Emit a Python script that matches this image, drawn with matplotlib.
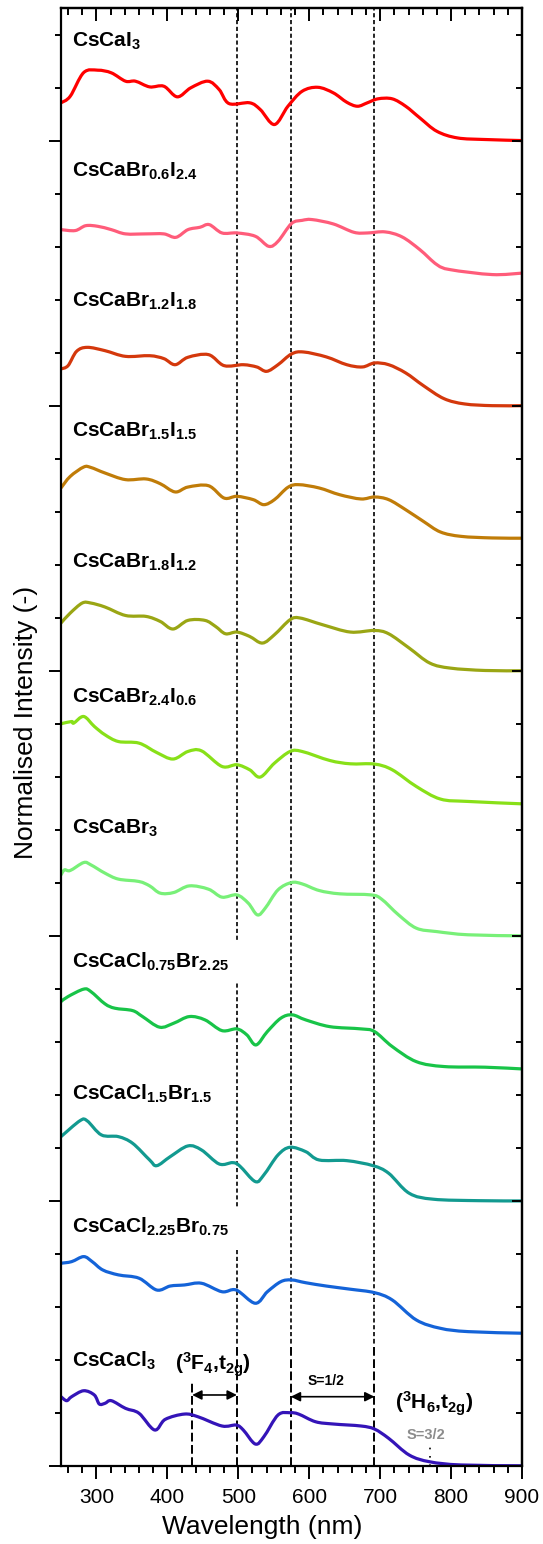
import matplotlib
matplotlib.use('Agg')
import numpy as np
import matplotlib.pyplot as plt
from matplotlib.ticker import MultipleLocator
from matplotlib.path import Path
from matplotlib.patches import PathPatch

plt.rcParams['font.family'] = ['Liberation Sans', 'DejaVu Sans']
plt.rcParams['mathtext.fontset'] = 'custom'
plt.rcParams['mathtext.rm'] = 'Liberation Sans'
plt.rcParams['mathtext.bf'] = 'Liberation Sans:bold'
plt.rcParams['mathtext.it'] = 'Liberation Sans:italic'

# ---------------- data (top to bottom) ----------------
names = [r'$\mathbf{CsCaI_3}$',
         r'$\mathbf{CsCaBr_{0.6}I_{2.4}}$',
         r'$\mathbf{CsCaBr_{1.2}I_{1.8}}$',
         r'$\mathbf{CsCaBr_{1.5}I_{1.5}}$',
         r'$\mathbf{CsCaBr_{1.8}I_{1.2}}$',
         r'$\mathbf{CsCaBr_{2.4}I_{0.6}}$',
         r'$\mathbf{CsCaBr_3}$',
         r'$\mathbf{CsCaCl_{0.75}Br_{2.25}}$',
         r'$\mathbf{CsCaCl_{1.5}Br_{1.5}}$',
         r'$\mathbf{CsCaCl_{2.25}Br_{0.75}}$',
         r'$\mathbf{CsCaCl_3}$']

colors = ['#ff0000', '#ff5c7a', '#d4380c', '#c07c08', '#9aa614', '#88e018',
          '#78f078', '#18c448', '#129a90', '#1463d8', '#3414b8']

offsets = [10, 9, 8, 7, 6, 5, 4, 3, 2, 1, 0]

wl_CsCaI3 = [250, 263, 282, 302, 321, 341, 355, 375, 395, 414, 433, 457, 473, 487, 516, 531, 551, 570, 590, 612, 634, 653, 668, 682, 697, 717, 736, 756, 780, 809, 848, 900]
int_CsCaI3 = [0.285, 0.334, 0.513, 0.531, 0.511, 0.448, 0.448, 0.405, 0.410, 0.330, 0.398, 0.448, 0.385, 0.279, 0.285, 0.234, 0.121, 0.259, 0.372, 0.402, 0.360, 0.289, 0.259, 0.285, 0.315, 0.315, 0.259, 0.171, 0.070, 0.020, 0.008, 0.0]

wl_Br06I24 = [250, 270, 285, 302, 321, 341, 370, 395, 412, 429, 446, 459, 477, 498, 524, 543, 556, 575, 590, 604, 634, 663, 682, 707, 731, 756, 780, 799, 858, 900]
int_Br06I24 = [0.328, 0.321, 0.358, 0.353, 0.328, 0.296, 0.296, 0.296, 0.270, 0.328, 0.346, 0.366, 0.303, 0.303, 0.278, 0.202, 0.240, 0.374, 0.398, 0.404, 0.371, 0.308, 0.303, 0.311, 0.273, 0.177, 0.064, 0.026, -0.011, 0.0]

wl_Br12I18 = [250, 260, 272, 287, 312, 341, 375, 395, 411, 429, 458, 480, 507, 526, 540, 556, 575, 592, 624, 653, 675, 692, 712, 736, 761, 790, 819, 858, 900]
int_Br12I18 = [0.277, 0.302, 0.410, 0.440, 0.415, 0.372, 0.377, 0.355, 0.309, 0.365, 0.385, 0.302, 0.309, 0.292, 0.259, 0.309, 0.390, 0.405, 0.368, 0.309, 0.292, 0.322, 0.309, 0.247, 0.151, 0.053, 0.013, 0.0, 0.0]

wl_Br15I15 = [250, 263, 282, 292, 312, 341, 370, 390, 411, 429, 458, 480, 498, 521, 536, 551, 570, 585, 614, 643, 673, 692, 712, 736, 761, 785, 814, 858, 900]
int_Br15I15 = [0.379, 0.466, 0.537, 0.534, 0.492, 0.442, 0.447, 0.411, 0.349, 0.386, 0.396, 0.303, 0.316, 0.291, 0.253, 0.291, 0.384, 0.404, 0.379, 0.328, 0.296, 0.311, 0.291, 0.215, 0.127, 0.047, 0.014, 0.002, 0.0]

wl_Br18I12 = [250, 263, 280, 292, 312, 341, 370, 390, 408, 429, 453, 468, 482, 498, 516, 534, 551, 573, 587, 619, 658, 692, 712, 741, 770, 799, 848, 900]
int_Br18I12 = [0.360, 0.435, 0.511, 0.511, 0.481, 0.417, 0.410, 0.372, 0.315, 0.380, 0.380, 0.334, 0.279, 0.292, 0.259, 0.209, 0.272, 0.385, 0.398, 0.347, 0.292, 0.304, 0.279, 0.171, 0.058, 0.020, 0.002, 0.0]

wl_Br24I06 = [250, 265, 268, 282, 297, 312, 331, 360, 385, 408, 429, 448, 477, 498, 516, 531, 551, 573, 590, 629, 658, 692, 717, 751, 785, 824, 900]
int_Br24I06 = [0.600, 0.617, 0.605, 0.655, 0.580, 0.517, 0.466, 0.454, 0.383, 0.334, 0.391, 0.396, 0.278, 0.291, 0.253, 0.198, 0.303, 0.391, 0.391, 0.323, 0.298, 0.296, 0.253, 0.127, 0.032, 0.014, -0.004]

wl_CsCaBr3 = [250, 255, 263, 282, 292, 312, 331, 360, 375, 390, 409, 431, 458, 477, 498, 514, 527, 538, 556, 575, 590, 614, 643, 687, 702, 726, 751, 780, 824, 900]
int_CsCaBr3 = [0.460, 0.498, 0.493, 0.553, 0.536, 0.473, 0.428, 0.410, 0.377, 0.322, 0.327, 0.377, 0.352, 0.292, 0.309, 0.247, 0.158, 0.209, 0.347, 0.402, 0.392, 0.342, 0.317, 0.309, 0.277, 0.158, 0.058, 0.032, 0.008, 0.0]

wl_Cl075Br225 = [250, 260, 282, 292, 312, 326, 351, 365, 389, 409, 431, 453, 477, 498, 512, 525, 541, 560, 576, 595, 629, 673, 692, 717, 751, 790, 848, 900]
int_Cl075Br225 = [0.504, 0.542, 0.598, 0.580, 0.487, 0.454, 0.436, 0.391, 0.311, 0.341, 0.391, 0.366, 0.285, 0.298, 0.253, 0.177, 0.278, 0.379, 0.404, 0.366, 0.315, 0.298, 0.278, 0.165, 0.051, 0.014, 0.009, -0.004]

wl_Cl15Br15 = [250, 277, 287, 307, 331, 351, 375, 385, 404, 429, 448, 473, 492, 502, 524, 536, 556, 573, 595, 614, 653, 690, 712, 741, 775, 839, 900]
int_Cl15Br15 = [0.485, 0.606, 0.604, 0.498, 0.485, 0.435, 0.309, 0.266, 0.334, 0.415, 0.385, 0.279, 0.289, 0.264, 0.146, 0.196, 0.347, 0.405, 0.372, 0.309, 0.304, 0.266, 0.209, 0.058, 0.013, 0.002, 0.0]

wl_Cl225Br075 = [250, 265, 282, 294, 309, 331, 360, 385, 404, 424, 448, 477, 497, 524, 541, 560, 575, 595, 624, 658, 692, 717, 751, 785, 824, 900]
int_Cl225Br075 = [0.530, 0.542, 0.580, 0.542, 0.479, 0.442, 0.417, 0.328, 0.358, 0.366, 0.379, 0.315, 0.328, 0.228, 0.315, 0.391, 0.404, 0.383, 0.358, 0.334, 0.308, 0.253, 0.102, 0.039, 0.014, 0.002]

wl_CsCaCl3 = [250, 258, 265, 282, 297, 304, 312, 321, 341, 360, 382, 397, 424, 443, 477, 497, 507, 524, 536, 556, 573, 585, 609, 634, 673, 692, 712, 741, 770, 814, 900]
int_CsCaCl3 = [0.523, 0.493, 0.523, 0.568, 0.536, 0.468, 0.473, 0.493, 0.435, 0.398, 0.272, 0.352, 0.392, 0.372, 0.302, 0.309, 0.272, 0.166, 0.221, 0.385, 0.402, 0.392, 0.334, 0.317, 0.302, 0.279, 0.209, 0.083, 0.032, 0.008, 0.002]

wavelengths = [wl_CsCaI3, wl_Br06I24, wl_Br12I18, wl_Br15I15, wl_Br18I12, wl_Br24I06,
               wl_CsCaBr3, wl_Cl075Br225, wl_Cl15Br15, wl_Cl225Br075, wl_CsCaCl3]
intensities = [int_CsCaI3, int_Br06I24, int_Br12I18, int_Br15I15, int_Br18I12, int_Br24I06,
               int_CsCaBr3, int_Cl075Br225, int_Cl15Br15, int_Cl225Br075, int_CsCaCl3]

# reference wavelengths (nm)
guide_lines_nm = [498, 574, 692]
f4_start_nm = 435
s32_mark_nm = 770

# label baseline height above each curve's zero line (layout)
label_lift = [0.709, 0.728, 0.747, 0.766, 0.777, 0.758, 0.770, 0.758, 0.762, 0.758, 0.747]


def smooth_path(x, y):
    """Path through the read points, drawn with Catmull-Rom style Bezier segments."""
    p = np.column_stack([x, y]).astype(float)
    ext = np.vstack([p[0], p, p[-1]])
    verts = [p[0]]
    codes = [Path.MOVETO]
    for i in range(len(p) - 1):
        p0, p1, p2, p3 = ext[i], ext[i + 1], ext[i + 2], ext[i + 3]
        verts += [p1 + (p2 - p0) / 6.0, p2 - (p3 - p1) / 6.0, p2]
        codes += [Path.CURVE4] * 3
    return Path(verts, codes)


# ---------------- figure ----------------
fig = plt.figure(figsize=(5.43, 15.44), dpi=100)
ax = fig.add_axes([0.1123, 0.0505, 0.8490, 0.9443])
ax.set_xlim(250, 900)
ax.set_ylim(0, 11)

for wl, val, off, col, nm in zip(wavelengths, intensities, offsets, colors, names):
    path = smooth_path(wl, np.asarray(val) + off)
    ax.add_patch(PathPatch(path, fill=False, edgecolor=col, lw=2.3,
                           joinstyle='round', capstyle='round', zorder=4,
                           label=nm))

# vertical guides: dotted in upper part, dashed at the bottom
for x in guide_lines_nm:
    ax.plot([x, x], [0.93, 11], color='black', lw=1.2,
            linestyle=(0, (2.5, 1.6)), zorder=1)
    ax.plot([x, x], [0, 0.93], color='black', lw=1.4,
            linestyle=(0, (4.5, 1.8)), zorder=1)
ax.plot([f4_start_nm, f4_start_nm], [0, 0.63], color='black', lw=1.4,
        linestyle=(0, (4.5, 1.8)), zorder=1)
ax.plot([s32_mark_nm, s32_mark_nm], [0, 0.16], color='black', lw=1.2,
        linestyle=(0, (1, 4)), zorder=1)

# sample labels (white box hides the guide lines behind them)
for name, off, lift in zip(names, offsets, label_lift):
    ax.text(266, off + lift, name, fontsize=15, ha='left', va='baseline',
            zorder=3,
            bbox=dict(boxstyle='square,pad=0.45', fc='white', ec='none'))

# annotations
ax.annotate('', xy=(f4_start_nm, 0.536), xytext=(guide_lines_nm[0], 0.536),
            arrowprops=dict(arrowstyle='<|-|>', color='black', lw=1.2,
                            mutation_scale=14, shrinkA=0, shrinkB=0), zorder=5)
ax.annotate('', xy=(guide_lines_nm[1], 0.523), xytext=(guide_lines_nm[2], 0.523),
            arrowprops=dict(arrowstyle='<|-|>', color='black', lw=1.2,
                            mutation_scale=14, shrinkA=0, shrinkB=0), zorder=5)
ax.text(464, 0.72, r'$\mathbf{(^3F_4{,}t_{2g})}$', fontsize=15,
        ha='center', va='baseline', zorder=5)
ax.text(624, 0.611, 'S=1/2', fontsize=10, fontweight='bold',
        ha='center', va='baseline', zorder=5)
ax.text(776, 0.423, r'$\mathbf{(^3H_6{,}t_{2g})}$', fontsize=15,
        ha='center', va='baseline', zorder=5)
ax.text(765, 0.204, 'S=3/2', fontsize=10.5, fontweight='bold', color='#8c8c8c',
        ha='center', va='baseline', zorder=5)

# ticks
ax.xaxis.set_major_locator(MultipleLocator(100))
ax.xaxis.set_minor_locator(MultipleLocator(20))
ax.yaxis.set_major_locator(MultipleLocator(2))
ax.yaxis.set_minor_locator(MultipleLocator(0.4))
ax.tick_params(axis='x', which='major', direction='out', length=9.5, width=1.4,
               pad=6, labelsize=15)
ax.tick_params(axis='x', which='minor', direction='out', length=5, width=1.4)
ax.tick_params(axis='y', which='major', direction='out', length=9, width=1.4,
               labelleft=False)
ax.tick_params(axis='y', which='minor', direction='out', length=4, width=1.4)
for sp in ax.spines.values():
    sp.set_linewidth(1.6)
    sp.set_zorder(6)

secx = ax.secondary_xaxis('top')
secx.xaxis.set_major_locator(MultipleLocator(100))
secx.xaxis.set_minor_locator(MultipleLocator(20))
secx.tick_params(axis='x', which='major', direction='in', length=9.5, width=1.4,
                 labeltop=False)
secx.tick_params(axis='x', which='minor', direction='in', length=5, width=1.4)
secx.spines['top'].set_linewidth(1.6)

secy = ax.secondary_yaxis('right')
secy.yaxis.set_major_locator(MultipleLocator(2))
secy.yaxis.set_minor_locator(MultipleLocator(0.4))
secy.tick_params(axis='y', which='major', direction='in', length=7.5, width=1.4,
                 labelright=False)
secy.tick_params(axis='y', which='minor', direction='in', length=4, width=1.4)
secy.spines['right'].set_linewidth(1.6)
secx.set_zorder(7)
secy.set_zorder(7)

ax.set_xlabel('Wavelength (nm)', fontsize=19)
ax.xaxis.set_label_coords(0.436, -0.0336)
ax.set_ylabel('Normalised Intensity (-)', fontsize=19)
ax.yaxis.set_label_coords(-0.076, 0.51)
ax.yaxis.label.set_va('center')

fig.savefig('out.png', dpi=100)
